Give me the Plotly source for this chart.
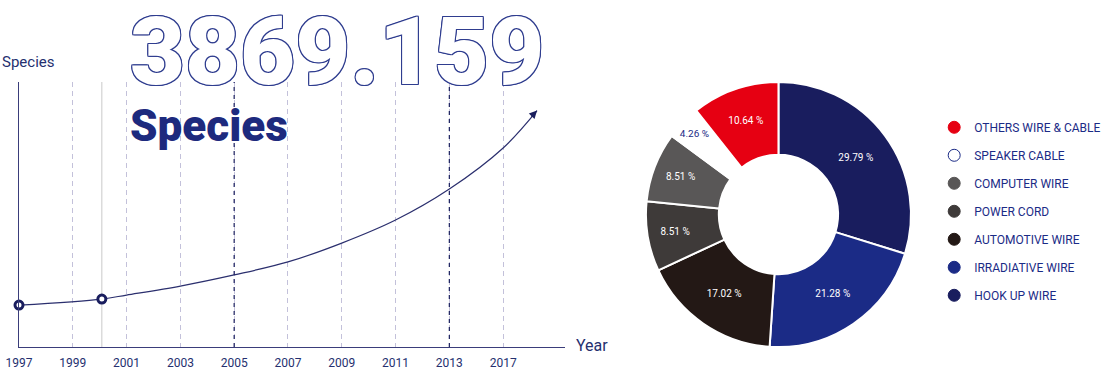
import plotly.graph_objects as go

# ---------------- data ----------------
year_labels = ["1997", "1999", "2001", "2003", "2005", "2007", "2009", "2011", "2013", "2017"]
year_pos = list(range(len(year_labels)))
highlight_years = [4, 8]          # 2005, 2013 drawn as dark dashed guides

curve_x = [0, 1.54, 2, 3, 4, 5, 6, 7, 8, 9, 9.63]
curve_y = [15.8, 18.1, 19.6, 23.0, 27.2, 32.1, 39.2, 47.9, 59.6, 75.1, 89.2]
marker_x = [0, 1.54]
marker_y = [15.8, 18.1]
arrow_from = (9.50, 86.4)

big_number = "3869.159"
big_word = "Species"

categories = ["HOOK UP WIRE", "IRRADIATIVE WIRE", "AUTOMOTIVE WIRE", "POWER CORD",
              "COMPUTER WIRE", "SPEAKER CABLE", "OTHERS WIRE & CABLE"]
shares = [29.79, 21.28, 17.02, 8.51, 8.51, 4.26, 10.64]
colors = ["#191d5e", "#1b2b86", "#231815", "#3e3a39", "#595757", "#ffffff", "#e60012"]
label_colors = ["#ffffff", "#ffffff", "#ffffff", "#ffffff", "#ffffff", "#1b2b86", "#ffffff"]

NAVY = "#1d2a7e"
TEXT_NAVY = "#25306f"
FONT = "Roboto"

fig = go.Figure()

# curve
fig.add_trace(go.Scatter(
    x=curve_x, y=curve_y, mode="lines", line=dict(color="#2b2f6e", width=1.2, shape="spline"),
    showlegend=False, hoverinfo="skip"))
# open circle markers
fig.add_trace(go.Scatter(
    x=marker_x, y=marker_y, mode="markers",
    marker=dict(symbol="circle", size=8, color="white", line=dict(color="#191d5e", width=3)),
    showlegend=False, hoverinfo="skip", cliponaxis=False))

# pie
fig.add_trace(go.Pie(
    labels=categories, values=shares, sort=False, direction="clockwise", rotation=0,
    hole=0.45, marker=dict(colors=colors, line=dict(color="white", width=2)),
    texttemplate="%{value:.2f} %", textposition="inside", insidetextorientation="horizontal",
    textfont=dict(family=FONT, size=10, color=label_colors),
    domain=dict(x=[0.5867, 0.8274], y=[0.0647, 0.779]), showlegend=False, hoverinfo="skip"))

# legend entries (circle markers)
for name, col in list(zip(categories, colors))[::-1]:
    fig.add_trace(go.Scatter(
        x=[None], y=[None], mode="markers", name=name, legendgroup=name,
        marker=dict(symbol="circle", size=12, color=col,
                    line=dict(color="#1b2b86" if col == "#ffffff" else col, width=1))))

# guide lines
for i in highlight_years:
    fig.add_shape(type="line", xref="x", yref="y domain", x0=year_pos[i], x1=year_pos[i],
                  y0=0, y1=1, line=dict(color="#1a1f5e", width=1.2, dash="4px,4px"))
fig.add_shape(type="line", xref="x", yref="y domain", x0=marker_x[1], x1=marker_x[1],
              y0=0, y1=1, line=dict(color="#c9c9c9", width=1), layer="below")

# arrow head
fig.add_annotation(x=curve_x[-1], y=curve_y[-1], ax=arrow_from[0], ay=arrow_from[1],
                   xref="x", yref="y", axref="x", ayref="y", text="", showarrow=True,
                   arrowhead=2, arrowsize=1.3, arrowwidth=1.2, arrowcolor="#1a1f5e", standoff=0)

# texts
outline = "#2f3d8f"
shadow = ", ".join(f"{dx}px {dy}px 0 {outline}" for dx, dy in
                   [(1, 0), (-1, 0), (0, 1), (0, -1), (1, 1), (-1, -1), (1, -1), (-1, 1)])
fig.add_annotation(x=0.1163, y=0.861, xref="paper", yref="paper", xanchor="left", yanchor="middle",
                   text=big_number, showarrow=False,
                   font=dict(family=FONT, size=95, weight=900, color="white", shadow=shadow))
fig.add_annotation(x=0.1163, y=0.66, xref="paper", yref="paper", xanchor="left", yanchor="middle",
                   text=big_word, showarrow=False,
                   font=dict(family=FONT, size=44, weight=900, color=NAVY))
fig.add_annotation(x=0.0, y=0.833, xref="paper", yref="paper", xanchor="left", yanchor="middle",
                   text="Species", showarrow=False, font=dict(family=FONT, size=15, color=TEXT_NAVY))
fig.add_annotation(x=0.5213, y=0.0674, xref="paper", yref="paper", xanchor="left", yanchor="middle",
                   text="Year", showarrow=False, font=dict(family=FONT, size=16, color=TEXT_NAVY))

fig.update_layout(
    width=1101, height=371, margin=dict(l=0, r=0, t=0, b=0, autoexpand=False),
    paper_bgcolor="white", plot_bgcolor="white",
    font=dict(family=FONT, color=TEXT_NAVY),
    xaxis=dict(domain=[19 / 1101, 565 / 1101], range=[0, 10.15], tickvals=year_pos, ticktext=year_labels,
               showgrid=True, gridcolor="#c3c1da", griddash="5px,4px", gridwidth=1,
               showline=True, linecolor="#3a3d7a", linewidth=1.2, zeroline=False, automargin=False,
               ticks="", ticklabelstandoff=5, tickfont=dict(family=FONT, size=12, color=TEXT_NAVY)),
    yaxis=dict(domain=[0.0647, 0.779], range=[0, 100], showgrid=False, showticklabels=False,
               automargin=False,
               showline=True, linecolor="#3a3d7a", linewidth=1.2, zeroline=False, ticks=""),
    legend=dict(x=0.8485, y=0.696, xanchor="left", yanchor="top", tracegroupgap=9,
                font=dict(family=FONT, size=12, color="#1b2b86"), bgcolor="rgba(0,0,0,0)"),
    showlegend=True,
)

fig.write_html("out.html", config={"displayModeBar": False},
               post_script="document.body.style.margin='0';document.body.style.overflow='hidden';")
